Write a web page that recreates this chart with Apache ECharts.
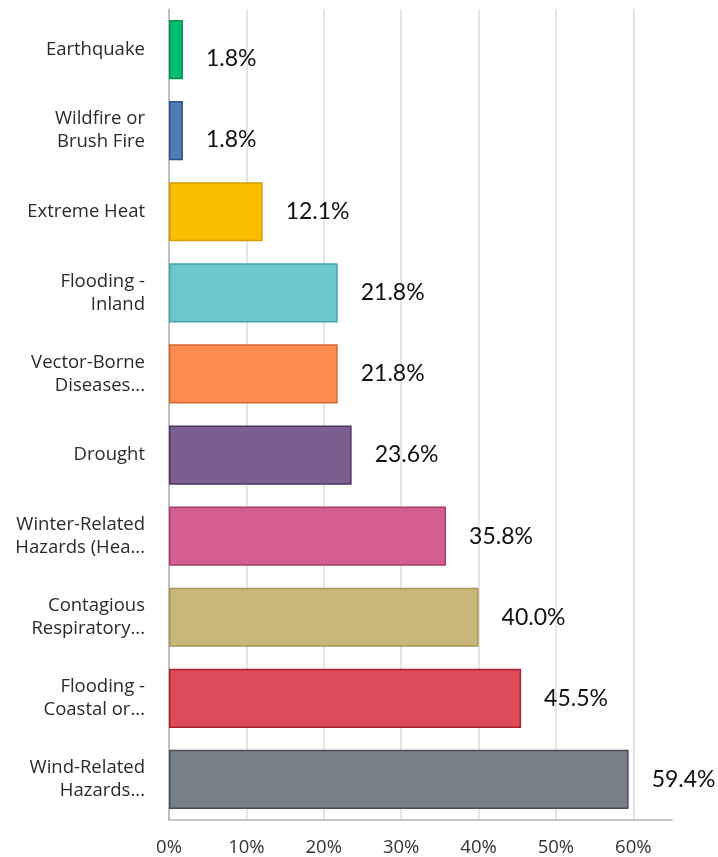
<!DOCTYPE html>
<html>
<head>
<meta charset="utf-8">
<script src="https://cdn.jsdelivr.net/npm/echarts@6/dist/echarts.min.js"></script>
<style>
  html, body { margin: 0; padding: 0; background: #fff; }
  #chart-container { width: 718px; height: 857px; }
</style>
</head>
<body>
<div id="chart-container"></div>
<script>
const categories = [
  "Earthquake",
  "Wildfire or\nBrush Fire",
  "Extreme Heat",
  "Flooding -\nInland",
  "Vector-Borne\nDiseases...",
  "Drought",
  "Winter-Related\nHazards (Hea...",
  "Contagious\nRespiratory...",
  "Flooding -\nCoastal or...",
  "Wind-Related\nHazards...",
];
const values = [1.8, 1.8, 12.1, 21.8, 21.8, 23.6, 35.8, 40.0, 45.5, 59.4];
const fillColors = [
  "#00bf6f", "#507cb6", "#f9be00", "#6bc8cd", "#ff8b4f",
  "#7d5e90", "#d25f90", "#c9b77a", "#dd4b5a", "#787f87",
];
const borderColors = [
  "#0a8f52", "#2d5287", "#d19e00", "#46a5aa", "#d4692f",
  "#4e3563", "#a63d6b", "#a89757", "#a5222f", "#4b5056",
];
const tickLabels = ["0%", "10%", "20%", "30%", "40%", "50%", "60%"];

var myChart = echarts.init(document.getElementById("chart-container"));

var option = {
  animation: false,
  grid: {
    left: 169,
    right: 46,
    top: 9,
    bottom: 37,
  },
  xAxis: {
    type: "value",
    min: 0,
    max: 65,
    interval: 10,
    axisLine: { show: true, lineStyle: { color: "#b5b5b5", width: 1.5 } },
    axisTick: { show: false },
    splitLine: {
      show: true,
      showMaxLine: false,
      lineStyle: { color: "#dddddd", width: 1.5 },
    },
    axisLabel: {
      showMaxLabel: false,
      margin: 18,
      fontFamily: "Open Sans",
      fontSize: 18.5,
      color: "#333",
      formatter: (v) => tickLabels[Math.round(v / 10)] || "",
    },
  },
  yAxis: {
    type: "category",
    inverse: true,
    data: categories,
    axisLine: { show: true, lineStyle: { color: "#b5b5b5", width: 1.5 } },
    axisTick: { show: false },
    axisLabel: {
      margin: 24,
      fontFamily: "Open Sans",
      fontSize: 18.5,
      lineHeight: 23,
      color: "#2a2a2a",
      align: "right",
    },
  },
  series: [
    {
      type: "bar",
      barCategoryGap: "27%",
      data: values.map((v, i) => ({
        value: v,
        itemStyle: {
          color: fillColors[i],
          borderColor: borderColors[i],
          borderWidth: 1.5,
        },
        // the two thin bars have their labels sitting a little lower
        label: i < 2 ? { offset: [0, 9] } : {},
      })),
      label: {
        show: true,
        position: "right",
        distance: 23,
        fontFamily: "Lato",
        fontSize: 23,
        color: "#111",
        formatter: (p) => p.value.toFixed(1) + "%",
      },
    },
  ],
};

option && myChart.setOption(option);
</script>
</body>
</html>
